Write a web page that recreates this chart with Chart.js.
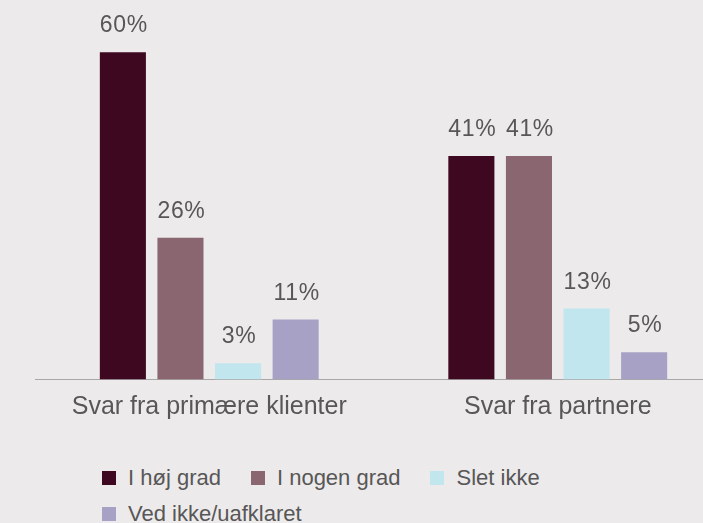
<!DOCTYPE html>
<html>
<head>
<meta charset="utf-8">
<script src="https://cdn.jsdelivr.net/npm/chart.js@4/dist/chart.umd.min.js"></script>
<style>
  html, body { margin: 0; padding: 0; background: #edeaeb; overflow: hidden; }
  #wrap { position: relative; width: 703px; height: 523px; overflow: hidden; }
  #chart { position: absolute; left: 0; top: 0; }
  #legend {
    position: absolute; left: 102px; top: 464px; width: 470px;
    display: flex; flex-wrap: wrap; column-gap: 30px; row-gap: 8px;
    font-family: "Liberation Sans", Arial, sans-serif; font-size: 22px; color: #575757;
  }
  #legend .item { display: flex; align-items: center; height: 28px; }
  #legend .box { width: 14px; height: 14px; margin-right: 12px; }
</style>
</head>
<body>
<div id="wrap">
  <canvas id="chart" width="740" height="440"></canvas>
  <div id="legend"></div>
</div>
<script>
const categories = ['Svar fra primære klienter', 'Svar fra partnere'];
const seriesNames = ['I høj grad', 'I nogen grad', 'Slet ikke', 'Ved ikke/uafklaret'];
const highDegree = [60, 41];
const someDegree = [26, 41];
const notAtAll = [3, 13];
const dontKnow = [11, 5];
const colors = ['#3d0820', '#8a6670', '#c2e6ed', '#a7a1c5'];

const seriesValues = [highDegree, someDegree, notAtAll, dontKnow];
const textColor = '#575757';

const valueLabels = {
    id: 'valueLabels',
    afterDatasetsDraw(chart){
        const ctx = chart.ctx;
        ctx.save();
        ctx.font = '23px "Liberation Sans", Arial, sans-serif';
        ctx.letterSpacing = '0.7px';
        ctx.fillStyle = textColor;
        ctx.textAlign = 'center';
        ctx.textBaseline = 'alphabetic';
        chart.data.datasets.forEach((ds, i) => {
            chart.getDatasetMeta(i).data.forEach((bar, j) => {
                ctx.fillText(ds.data[j] + '%', bar.x + 1, bar.y - 20);
            });
        });
        ctx.restore();
    }
};

new Chart(document.getElementById('chart'), {
    type: 'bar',
    data: {
        labels: categories,
        datasets: seriesNames.map((name, i) => ({
            label: name,
            data: seriesValues[i],
            backgroundColor: colors[i],
            categoryPercentage: 0.661,
            barPercentage: 0.8
        }))
    },
    options: {
        responsive: false,
        animation: false,
        layout: { padding: { left: 35, right: 8, top: 25, bottom: 0 } },
        plugins: {
            legend: { display: false },
            tooltip: { enabled: false }
        },
        scales: {
            x: {
                grid: { display: false, drawTicks: false },
                border: { display: true, color: '#a8a8a8', width: 1 },
                ticks: {
                    color: textColor,
                    padding: 13,
                    font: { family: '"Liberation Sans", Arial, sans-serif', size: 25 }
                },
                afterFit(scale){ scale.height = 60.5; }
            },
            y: { display: false, min: 0, max: 65 }
        }
    },
    plugins: [valueLabels]
});

const legend = document.getElementById('legend');
seriesNames.forEach((name, i) => {
    const item = document.createElement('div');
    item.className = 'item';
    const box = document.createElement('span');
    box.className = 'box';
    box.style.background = colors[i];
    item.appendChild(box);
    item.appendChild(document.createTextNode(name));
    legend.appendChild(item);
});
</script>
</body>
</html>
